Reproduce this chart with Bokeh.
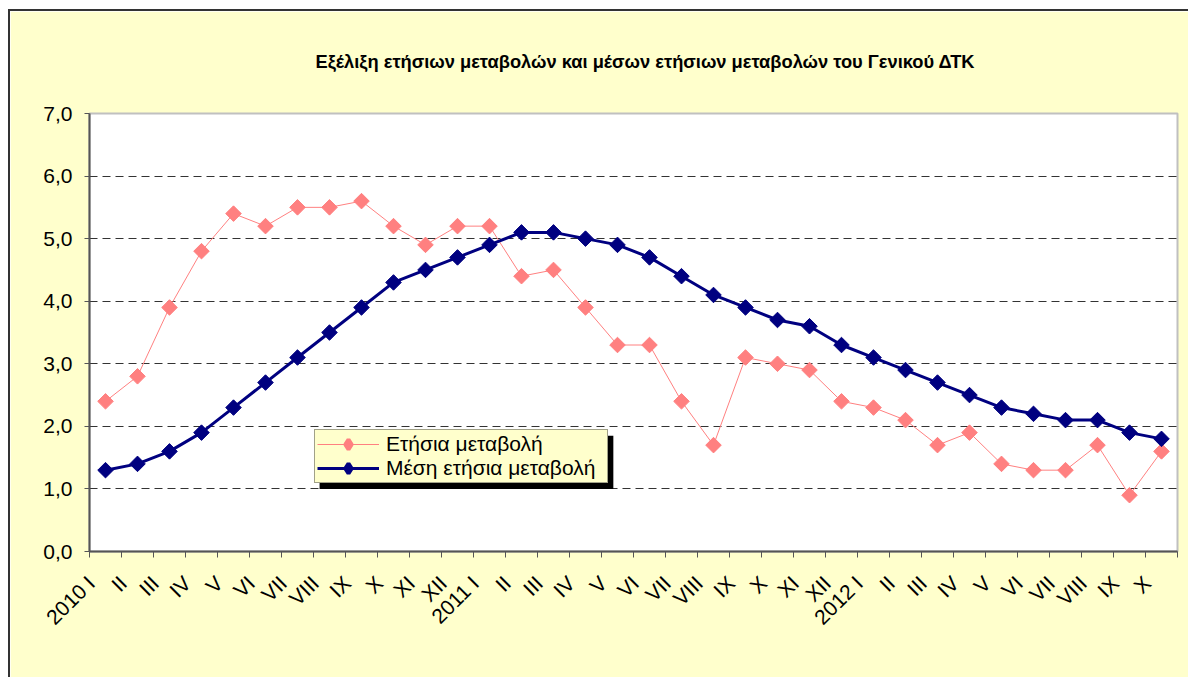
import numpy as np
from bokeh.plotting import figure
from bokeh.models import (Range1d, FixedTicker, Legend, LegendItem, BoxAnnotation,
                          CustomJSTickFormatter, ColumnDataSource, LinearAxis)
from bokeh.embed import file_html
from bokeh.resources import INLINE

months = ["I", "II", "III", "IV", "V", "VI", "VII", "VIII", "IX", "X", "XI", "XII"]
categories = (["2010 I"] + months[1:] + ["2011 I"] + months[1:] +
              ["2012 I"] + months[1:10])

annual_change = [2.4, 2.8, 3.9, 4.8, 5.4, 5.2, 5.5, 5.5, 5.6, 5.2, 4.9, 5.2,
                 5.2, 4.4, 4.5, 3.9, 3.3, 3.3, 2.4, 1.7, 3.1, 3.0, 2.9, 2.4,
                 2.3, 2.1, 1.7, 1.9, 1.4, 1.3, 1.3, 1.7, 0.9, 1.6]
mean_annual_change = [1.3, 1.4, 1.6, 1.9, 2.3, 2.7, 3.1, 3.5, 3.9, 4.3, 4.5, 4.7,
                      4.9, 5.1, 5.1, 5.0, 4.9, 4.7, 4.4, 4.1, 3.9, 3.7, 3.6, 3.3,
                      3.1, 2.9, 2.7, 2.5, 2.3, 2.2, 2.1, 2.1, 1.9, 1.8]

title_text = "Εξέλιξη ετήσιων μεταβολών και μέσων ετήσιων μεταβολών του Γενικού ΔΤΚ"
series_names = ["Ετήσια μεταβολή", "Μέση ετήσια μεταβολή"]
y_ticks = [0, 1, 2, 3, 4, 5, 6, 7]

PINK = "#FF8080"
NAVY = "#000080"

n = len(categories)
src = ColumnDataSource(dict(
    x=[i + 0.5 for i in range(n)],
    annual=annual_change,
    mean=mean_annual_change,
))

FONT = "Liberation Sans"

p = figure(width=1180, height=668, output_backend="svg", toolbar_location=None,
           x_range=Range1d(0, n), y_range=Range1d(0, 7),
           min_border_left=79, min_border_right=13, min_border_top=102,
           min_border_bottom=128,
           border_fill_color="#FFFFCC", background_fill_color="white",
           title=title_text,
           styles={"margin-left": "8px", "margin-top": "9px",
                   "border-left": "2px solid #333333", "border-top": "2px solid #333333"})

p.title.align = "left"
p.title.offset = 226
p.title.vertical_align = "top"
p.title.text_font = FONT
p.title.text_font_size = "18.3px"
p.title.text_font_style = "bold"
p.title.text_color = "black"
p.title.standoff = 79

p.outline_line_color = "#C0C0C0"
p.outline_line_width = 2

# y axis
p.yaxis.ticker = FixedTicker(ticks=y_ticks)
p.yaxis.formatter = CustomJSTickFormatter(code="return tick.toFixed(1).replace('.', ',');")
p.yaxis.major_label_text_font = FONT
p.yaxis.major_label_text_font_size = "21px"
p.yaxis.major_label_text_color = "black"
p.yaxis.axis_line_color = "#555555"
p.yaxis.axis_line_width = 2
p.yaxis.major_tick_line_color = "#555555"
p.yaxis.major_tick_in = 0
p.yaxis.major_tick_out = 5
p.yaxis.minor_tick_line_color = None
p.yaxis.major_label_standoff = 12

# x axis: tick marks on category boundaries (no labels)
p.xaxis.ticker = FixedTicker(ticks=list(range(n + 1)))
p.xaxis.formatter = CustomJSTickFormatter(code="return '';")
p.xaxis.axis_line_color = "#555555"
p.xaxis.axis_line_width = 2
p.xaxis.major_tick_line_color = "#555555"
p.xaxis.major_tick_in = 0
p.xaxis.major_tick_out = 6
p.xaxis.minor_tick_line_color = None
p.xaxis.major_label_standoff = 0

# second x axis carrying the rotated category labels
label_axis = LinearAxis(
    ticker=FixedTicker(ticks=[i + 0.05 for i in range(n)]),
    formatter=CustomJSTickFormatter(args=dict(labels=categories),
                                    code="return labels[Math.floor(tick)];"),
    major_label_orientation=np.pi / 4,
    major_label_text_font=FONT, major_label_text_font_size="21px",
    major_label_text_color="black",
    axis_line_color=None, major_tick_line_color=None, minor_tick_line_color=None,
    major_tick_in=0, major_tick_out=0, major_label_standoff=22)
p.add_layout(label_axis, "below")

p.xgrid.grid_line_color = None
p.ygrid.ticker = FixedTicker(ticks=y_ticks[1:-1])
p.ygrid.grid_line_color = "#333333"
p.ygrid.grid_line_dash = "8 5"
p.ygrid.grid_line_width = 1

# legend shadow
shadow = BoxAnnotation(left=7.19, right=16.37, bottom=1.0, top=1.85,
                       fill_color="black", fill_alpha=1.0, line_color=None, level="overlay")
p.add_layout(shadow)

l1 = p.line("x", "annual", source=src, line_color=PINK, line_width=1)
p.scatter("x", "annual", source=src, marker="square", size=11, angle=np.pi / 4,
          fill_color=PINK, line_color=PINK)
l2 = p.line("x", "mean", source=src, line_color=NAVY, line_width=3)
p.scatter("x", "mean", source=src, marker="square", size=11, angle=np.pi / 4,
          fill_color=NAVY, line_color=NAVY)

# legend-only diamond glyphs (a single NaN point, so nothing is drawn in the plot)
legend_src = ColumnDataSource(dict(x=[float("nan")], y=[float("nan")]))
d1 = p.scatter("x", "y", source=legend_src, marker="diamond", fill_color=PINK,
               line_color=PINK, line_width=4)
d2 = p.scatter("x", "y", source=legend_src, marker="diamond", fill_color=NAVY,
               line_color=NAVY, line_width=4)

legend = Legend(items=[LegendItem(label=series_names[0], renderers=[l1, d1]),
                       LegendItem(label=series_names[1], renderers=[l2, d2])],
                location=(225, 68), margin=0, padding=2, spacing=0,
                glyph_width=62, glyph_height=24, label_height=24, label_standoff=7,
                label_width=219,
                label_text_font=FONT, label_text_font_size="21px",
                label_text_color="black",
                background_fill_color="#FFFFCC", background_fill_alpha=1.0,
                border_line_color="#444444", border_line_width=1)
p.add_layout(legend, "center")

open("out.html", "w").write(file_html(p, INLINE))
